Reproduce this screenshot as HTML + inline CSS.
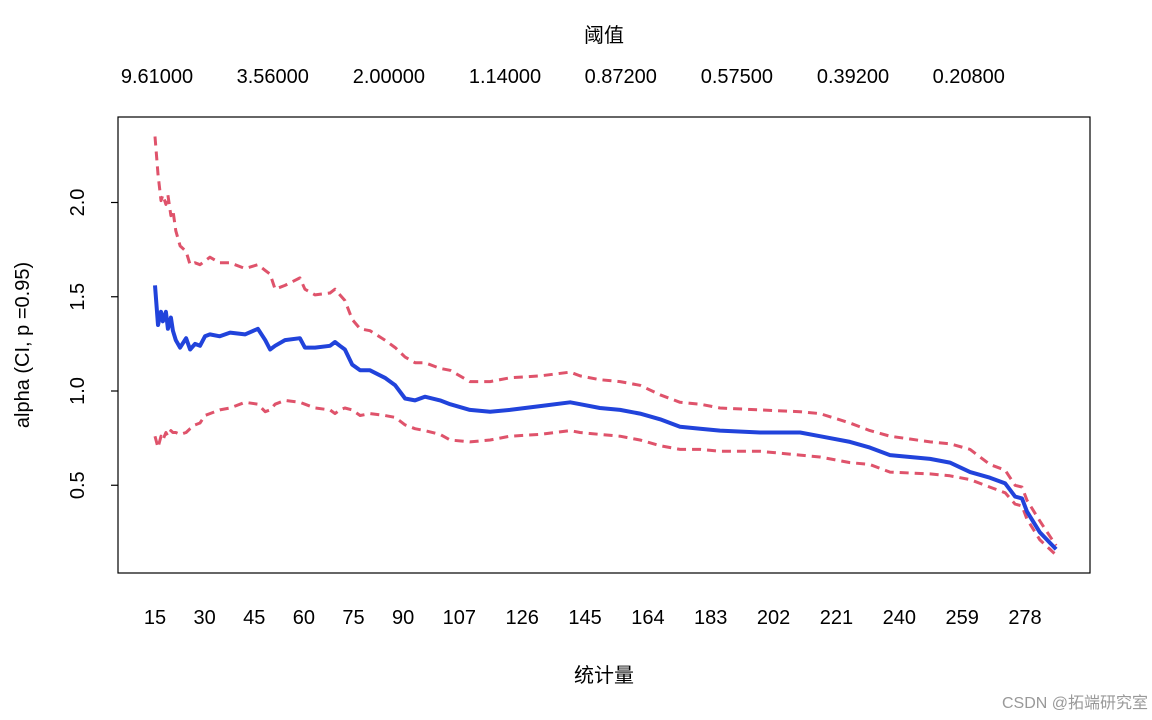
<!DOCTYPE html>
<html><head><meta charset="utf-8"><style>
html,body{margin:0;padding:0;background:#fff;}
svg{display:block;font-family:"Liberation Sans","Noto Sans CJK SC",sans-serif;}
</style></head><body>
<svg id="chart" width="1152" height="720" viewBox="0 0 1152 720" xmlns="http://www.w3.org/2000/svg">
<rect x="118" y="117" width="972" height="456" fill="none" stroke="#000" stroke-width="1.2"/>
<text x="604" y="42" font-size="20" text-anchor="middle">阈值</text>
<text x="604" y="682" font-size="20" text-anchor="middle">统计量</text>
<text transform="translate(29,345) rotate(-90)" font-size="20" text-anchor="middle">alpha (CI, p =0.95)</text>
<text x="1148" y="708" font-size="16" fill="#999" text-anchor="end">CSDN @拓端研究室</text>
<g id="axes"></g>
<g id="series"></g>
</svg>
<script>
const kVals=[15,15.9,16.8,17.4,18.3,18.9,19.8,20.4,21.3,22.6,24.4,25.6,27.1,28.6,30.1,31.6,34.6,37.7,42.2,46.1,48.3,49.8,51.3,54.3,58.8,60.3,63.4,67.9,69.4,70.9,72.4,74.6,77,80,84.5,87.6,90.6,93.6,96.6,101.2,104.2,110.2,116.3,122.3,131.4,140.5,143.5,149.5,155.6,161.6,167.7,173.7,179.8,185.8,197.9,210,216,225.1,231.1,237.2,249.3,255.3,261.4,267.4,272,275,277.1,278.6,282.5,287.4];
const alphaVals=[1.56,1.35,1.42,1.37,1.42,1.33,1.39,1.32,1.27,1.23,1.28,1.22,1.25,1.24,1.29,1.30,1.29,1.31,1.30,1.33,1.27,1.22,1.24,1.27,1.28,1.23,1.23,1.24,1.26,1.24,1.22,1.14,1.11,1.11,1.07,1.03,0.96,0.95,0.97,0.95,0.93,0.90,0.89,0.90,0.92,0.94,0.93,0.91,0.90,0.88,0.85,0.81,0.80,0.79,0.78,0.78,0.76,0.73,0.70,0.66,0.64,0.62,0.57,0.54,0.51,0.44,0.43,0.36,0.25,0.16];
const upperVals=[2.35,2.15,2.01,2.04,1.99,2.04,1.93,1.96,1.85,1.77,1.74,1.67,1.68,1.67,1.69,1.71,1.68,1.68,1.65,1.67,1.64,1.62,1.54,1.56,1.60,1.54,1.51,1.52,1.54,1.51,1.48,1.38,1.33,1.32,1.27,1.23,1.18,1.15,1.15,1.12,1.11,1.05,1.05,1.07,1.08,1.10,1.08,1.06,1.05,1.03,0.98,0.94,0.93,0.91,0.90,0.89,0.88,0.83,0.79,0.76,0.73,0.72,0.69,0.61,0.58,0.50,0.49,0.42,0.31,0.18];
const lowerVals=[0.76,0.70,0.76,0.74,0.78,0.76,0.79,0.78,0.78,0.77,0.78,0.80,0.82,0.83,0.87,0.88,0.90,0.91,0.94,0.93,0.89,0.90,0.93,0.95,0.94,0.93,0.91,0.90,0.88,0.90,0.91,0.90,0.87,0.88,0.87,0.86,0.82,0.80,0.79,0.77,0.74,0.73,0.74,0.76,0.77,0.79,0.78,0.77,0.76,0.74,0.71,0.69,0.69,0.68,0.68,0.66,0.65,0.62,0.61,0.57,0.56,0.55,0.53,0.49,0.46,0.40,0.39,0.32,0.21,0.13];
const xTicks=[15,30,45,60,75,90,107,126,145,164,183,202,221,240,259,278];
const yTicks=[0.5,1.0,1.5,2.0];
const yTickLabels=["0.5","1.0","1.5","2.0"];
const topLabels=["9.61000","3.56000","2.00000","1.14000","0.87200","0.57500","0.39200","0.20800"];
const topLabelK=[15.6,50.6,85.7,120.8,155.8,190.9,226,261];

const NS="http://www.w3.org/2000/svg";
const xs=k=>155+(k-15)*3.308;
const ys=a=>391-(a-1)*188.5;
const axes=document.getElementById('axes');
const series=document.getElementById('series');
function mk(tag,attrs,parent){const e=document.createElementNS(NS,tag);for(const k in attrs)e.setAttribute(k,attrs[k]);parent.appendChild(e);return e;}

xTicks.forEach(t=>{
  const e=mk('text',{x:xs(t),y:624,'font-size':20,'text-anchor':'middle'},axes);
  e.textContent=t;
  
  
});
yTicks.forEach((t,i)=>{
  const l=mk('line',{x1:111,x2:118,y1:ys(t),y2:ys(t),stroke:'#000','stroke-width':1.2},axes);
  
  
  const e=mk('text',{transform:`translate(84,${ys(t)}) rotate(-90)`,'font-size':20,'text-anchor':'middle'},axes);
  e.textContent=yTickLabels[i];
  
  
});
topLabels.forEach((s,i)=>{
  const e=mk('text',{x:xs(topLabelK[i]),y:83,'font-size':20,'text-anchor':'middle'},axes);
  e.textContent=s;
  
  
});
function pts(vals){return kVals.map((k,i)=>xs(k).toFixed(1)+','+ys(vals[i]).toFixed(1)).join(' ');}
const up=mk('polyline',{points:pts(upperVals),fill:'none',stroke:'#DF536B','stroke-width':3,'stroke-dasharray':'9 6','stroke-linejoin':'round'},series);


const lo=mk('polyline',{points:pts(lowerVals),fill:'none',stroke:'#DF536B','stroke-width':3,'stroke-dasharray':'9 6','stroke-linejoin':'round'},series);


const mid=mk('polyline',{points:pts(alphaVals),fill:'none',stroke:'#2143DB','stroke-width':4,'stroke-linejoin':'round'},series);


</script>
</body></html>
